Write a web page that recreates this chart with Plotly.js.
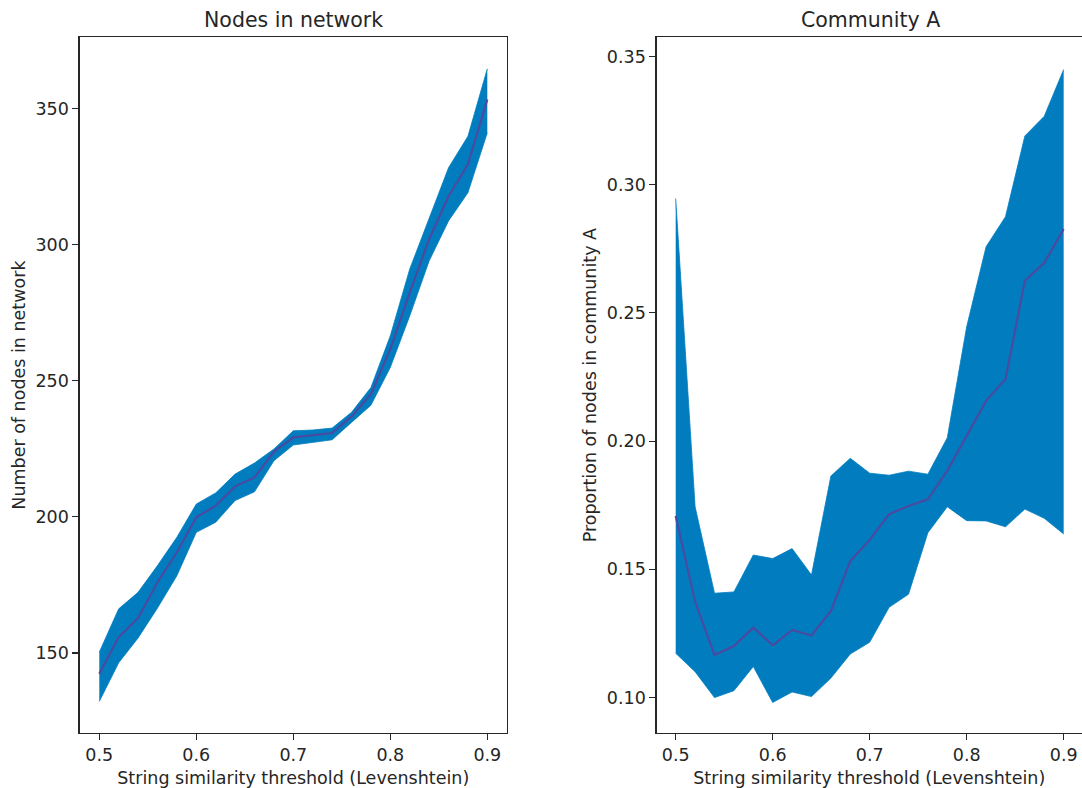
<!DOCTYPE html>
<html>
<head>
<meta charset="utf-8">
<script src="https://cdn.plot.ly/plotly-3.0.1.min.js"></script>
<style>
  html, body { margin: 0; padding: 0; background: #ffffff; }
  #chart { width: 1082px; height: 788px; }
</style>
</head>
<body>
<div id="chart"></div>
<script>
// Levenshtein similarity thresholds
const thresholds = [0.50, 0.52, 0.54, 0.56, 0.58, 0.60, 0.62, 0.64, 0.66, 0.68, 0.70,
                    0.72, 0.74, 0.76, 0.78, 0.80, 0.82, 0.84, 0.86, 0.88, 0.90];

// Nodes in network: mean with lower / upper bounds
const nodesMean  = [142.4, 155.8, 162.8, 176.0, 187.0, 199.8, 204.1, 211.2, 214.5, 224.0, 229.2,
                    230.0, 230.8, 236.9, 245.1, 261.6, 282.4, 302.0, 317.8, 329.5, 353.3];
const nodesLower = [132.2, 146.4, 155.5, 166.5, 178.4, 194.3, 198.0, 206.0, 209.2, 220.6, 226.4,
                    227.4, 228.3, 234.7, 241.0, 254.9, 273.8, 294.0, 308.7, 319.1, 341.1];
const nodesUpper = [150.3, 166.2, 172.3, 182.1, 192.5, 204.7, 208.8, 215.7, 219.8, 224.9, 231.6,
                    231.9, 232.6, 238.4, 247.5, 266.5, 291.0, 309.9, 328.2, 339.8, 364.6];

// Proportion of nodes in community A: mean with lower / upper bounds
const commMean  = [0.1708, 0.1374, 0.1166, 0.1201, 0.1273, 0.1204, 0.1264, 0.1242, 0.1338, 0.1533, 0.1615,
                   0.1715, 0.1747, 0.1773, 0.1885, 0.2024, 0.2157, 0.2241, 0.2625, 0.2695, 0.2827];
const commLower = [0.1173, 0.1101, 0.1000, 0.1027, 0.1121, 0.0981, 0.1022, 0.1004, 0.1076, 0.1170, 0.1216,
                   0.1352, 0.1403, 0.1643, 0.1744, 0.1690, 0.1689, 0.1666, 0.1735, 0.1699, 0.1638];
const commUpper = [0.2946, 0.1744, 0.1407, 0.1412, 0.1556, 0.1542, 0.1581, 0.1478, 0.1864, 0.1933, 0.1875,
                   0.1867, 0.1883, 0.1871, 0.2013, 0.2446, 0.2758, 0.2875, 0.3190, 0.3267, 0.3449];

const xTicks = [0.5, 0.6, 0.7, 0.8, 0.9];
const nodeTicks = [150, 200, 250, 300, 350];
const commTicks = [0.10, 0.15, 0.20, 0.25, 0.30, 0.35];

const bandColor = '#017dbf';
const lineColor = '#4a4ba0';
const ink = '#262626';
const font = { family: 'DejaVu Sans, sans-serif', size: 17.5, color: ink };

function band(x, lo, hi, xa, ya) {
  return [
    { x: x, y: lo, xaxis: xa, yaxis: ya, type: 'scatter', mode: 'lines',
      line: { width: 0.8, color: bandColor }, hoverinfo: 'skip', showlegend: false },
    { x: x, y: hi, xaxis: xa, yaxis: ya, type: 'scatter', mode: 'lines',
      line: { width: 0.8, color: bandColor }, fill: 'tonexty', fillcolor: bandColor,
      hoverinfo: 'skip', showlegend: false }
  ];
}
function meanLine(x, y, xa, ya) {
  return { x: x, y: y, xaxis: xa, yaxis: ya, type: 'scatter', mode: 'lines',
           line: { width: 2.2, color: lineColor }, showlegend: false };
}

const traces = [
  ...band(thresholds, nodesLower, nodesUpper, 'x', 'y'),
  meanLine(thresholds, nodesMean, 'x', 'y'),
  ...band(thresholds, commLower, commUpper, 'x2', 'y2'),
  meanLine(thresholds, commMean, 'x2', 'y2')
];

const axisCommon = {
  showgrid: false, zeroline: false, showline: true, linecolor: ink, linewidth: 1.2,
  ticks: 'outside', ticklen: 6, tickwidth: 1.1, tickcolor: ink,
  tickfont: font
};
const xLabel = 'String similarity threshold (Levenshtein)';

const layout = {
  width: 1082, height: 788,
  margin: { l: 0, r: 0, t: 0, b: 0 },
  paper_bgcolor: '#ffffff', plot_bgcolor: '#ffffff',
  font: font,
  showlegend: false,
  xaxis: Object.assign({}, axisCommon, {
    domain: [79.5 / 1082, 507 / 1082], range: [0.4796, 0.9203], mirror: true,
    tickvals: xTicks, ticktext: xTicks.map(v => v.toFixed(1)),
    title: { text: xLabel, font: font, standoff: 7 }, anchor: 'y'
  }),
  yaxis: Object.assign({}, axisCommon, {
    domain: [55 / 788, 750.8 / 788], range: [120.6, 376.2], mirror: true,
    tickvals: nodeTicks, ticktext: nodeTicks.map(String),
    title: { text: 'Number of nodes in network', font: font, standoff: 5 }, anchor: 'x'
  }),
  xaxis2: Object.assign({}, axisCommon, {
    domain: [656.5 / 1082, 1], range: [0.4802, 0.9189], mirror: true,
    tickvals: xTicks, ticktext: xTicks.map(v => v.toFixed(1)),
    title: { text: xLabel, font: font, standoff: 7 }, anchor: 'y2'
  }),
  yaxis2: Object.assign({}, axisCommon, {
    domain: [55 / 788, 750.8 / 788], range: [0.0862, 0.3575], mirror: false,
    tickvals: commTicks, ticktext: commTicks.map(v => v.toFixed(2)),
    title: { text: 'Proportion of nodes in community A', font: font, standoff: 5 }, anchor: 'x2'
  }),
  annotations: [
    { text: 'Nodes in network', xref: 'paper', yref: 'paper',
      x: (79.5 + 507) / 2 / 1082, y: (788 - 20) / 788, xanchor: 'center', yanchor: 'middle',
      showarrow: false, font: { family: font.family, size: 20.5, color: ink } },
    { text: 'Community A', xref: 'paper', yref: 'paper',
      x: 870 / 1082, y: (788 - 20) / 788, xanchor: 'center', yanchor: 'middle',
      showarrow: false, font: { family: font.family, size: 20.5, color: ink } }
  ]
};

Plotly.newPlot('chart', traces, layout, { displayModeBar: false, staticPlot: true });
</script>
</body>
</html>
